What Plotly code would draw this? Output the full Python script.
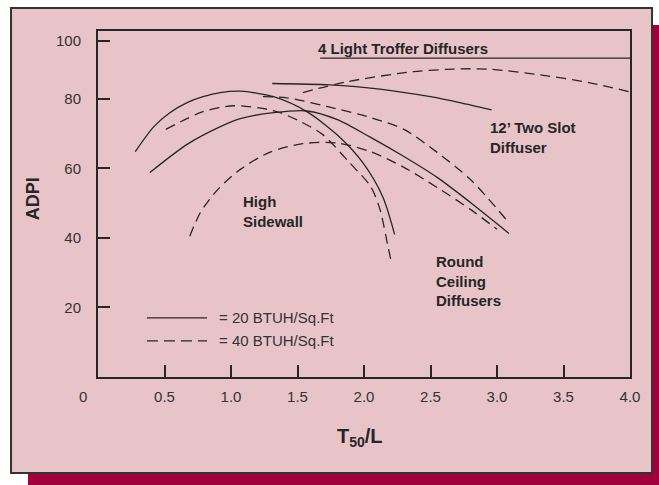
import plotly.graph_objects as go

# --- data (x = T50/L, y = ADPI) ---
hs_solid_x = [0.28, 0.42, 0.54, 0.67, 0.79, 0.92, 1.07, 1.32, 1.57, 1.82, 1.99, 2.14, 2.23]
hs_solid_y = [64.8, 72.0, 76.0, 78.9, 80.6, 81.8, 82.2, 80.6, 76.3, 68.9, 61.7, 51.9, 41.0]

hs_dash_x = [0.51, 0.79, 1.02, 1.27, 1.37, 1.52, 1.69, 1.89, 2.05, 2.12, 2.18, 2.20]
hs_dash_y = [71.2, 76.3, 78.0, 77.0, 76.0, 73.5, 69.7, 61.7, 54.8, 48.2, 37.6, 34.0]

low_dash_x = [0.69, 0.77, 0.90, 1.07, 1.29, 1.54, 1.80, 2.05, 2.30, 2.55, 2.80, 3.00]
low_dash_y = [40.5, 47.3, 53.9, 59.7, 64.6, 67.1, 67.3, 64.8, 60.3, 54.5, 48.2, 42.5]

rc_solid_x = [0.39, 0.67, 0.92, 1.07, 1.32, 1.57, 1.80, 2.05, 2.30, 2.55, 2.80, 3.09]
rc_solid_y = [58.8, 66.9, 72.0, 74.3, 76.0, 76.5, 74.0, 68.9, 63.4, 57.4, 50.2, 41.3]

rc_dash_x = [1.24, 1.42, 1.72, 2.05, 2.30, 2.55, 2.80, 3.08]
rc_dash_y = [80.6, 80.3, 77.8, 74.6, 71.2, 64.6, 56.8, 44.8]

slot_solid_x = [1.31, 1.74, 2.12, 2.50, 2.72, 2.96]
slot_solid_y = [84.4, 84.0, 82.8, 80.6, 78.9, 76.8]

slot_dash_x = [1.54, 1.87, 2.37, 2.72, 2.95, 3.32, 3.70, 4.00]
slot_dash_y = [81.8, 84.9, 87.8, 88.6, 88.5, 86.9, 84.6, 82.0]

troffer_x = [1.67, 4.00]
troffer_y = [91.7, 91.7]

x_ticks = [0.5, 1.0, 1.5, 2.0, 2.5, 3.0, 3.5, 4.0]
x_labels = ['0.5', '1.0', '1.5', '2.0', '2.5', '3.0', '3.5', '4.0']
y_ticks = [20, 40, 60, 80, 96.6]
y_labels = ['20', '40', '60', '80', '100']

INK = '#262626'
PINK = '#e8c4c9'
CRIMSON = '#a0003c'
FONT = 'Liberation Sans, Arial, sans-serif'

curves = [
    (hs_solid_x, hs_solid_y, 'solid'),
    (hs_dash_x, hs_dash_y, '10px,6px'),
    (low_dash_x, low_dash_y, '10px,6px'),
    (rc_solid_x, rc_solid_y, 'solid'),
    (rc_dash_x, rc_dash_y, '10px,6px'),
    (slot_solid_x, slot_solid_y, 'solid'),
    (slot_dash_x, slot_dash_y, '10px,6px'),
    (troffer_x, troffer_y, 'solid'),
]

fig = go.Figure()
for xs, ys, dash in curves:
    fig.add_trace(go.Scatter(
        x=xs, y=ys, mode='lines',
        line=dict(color=INK, width=1.3, dash=dash, shape='spline', smoothing=0.8),
        hoverinfo='skip', showlegend=False,
    ))

# background panel with offset shadow
shapes = [
    dict(type='rect', xref='paper', yref='paper', x0=-0.1316, x1=1.08, y0=-0.33, y1=1.0173,
         fillcolor=CRIMSON, line=dict(width=0), layer='below'),
    dict(type='rect', xref='paper', yref='paper', x0=-0.1635, x1=1.0414, y0=-0.2775, y1=1.0665,
         fillcolor=PINK, line=dict(color='#333333', width=2), layer='below'),
    # legend samples
    dict(type='line', xref='x', yref='y', x0=0.368, x1=0.82, y0=17.0, y1=17.0,
         line=dict(color=INK, width=1.3)),
    dict(type='line', xref='x', yref='y', x0=0.368, x1=0.82, y0=10.4, y1=10.4,
         line=dict(color=INK, width=1.3, dash='11px,6px')),
]

bold = dict(family=FONT, size=15, color=INK)
plain = dict(family=FONT, size=15, color='#333333')
annotations = [
    dict(x=1.64, y=94.6, text='<b>4 Light Troffer Diffusers</b>', font=bold),
    dict(x=2.93, y=69.0, text='<b>12’ Two Slot<br>Diffuser</b>', font=bold),
    dict(x=1.075, y=47.5, text='<b>High<br>Sidewall</b>', font=bold),
    dict(x=2.53, y=27.6, text='<b>Round<br>Ceiling<br>Diffusers</b>', font=bold),
    dict(x=0.895, y=17.0, text='= 20 BTUH/Sq.Ft', font=plain),
    dict(x=0.895, y=10.4, text='= 40 BTUH/Sq.Ft', font=plain),
]
for a in annotations:
    a.update(xref='x', yref='y', xanchor='left', yanchor='middle', align='left', showarrow=False)

annotations += [
    dict(xref='paper', yref='paper', x=-0.122, y=0.514, text='<b>ADPI</b>', textangle=-90,
         font=dict(family=FONT, size=18, color=INK), showarrow=False,
         xanchor='center', yanchor='middle'),
    dict(xref='paper', yref='paper', x=0.4925, y=-0.176, text='<b>T<sub>50</sub>/L</b>',
         font=dict(family=FONT, size=20, color=INK), showarrow=False,
         xanchor='center', yanchor='middle'),
    dict(xref='paper', yref='paper', x=-0.028, y=-0.055, text='0',
         font=plain, showarrow=False, xanchor='center', yanchor='middle'),
]

axis_common = dict(
    ticks='inside', ticklen=12, tickwidth=2, tickcolor=INK,
    showline=True, linewidth=2, linecolor=INK, mirror=True,
    showgrid=False, zeroline=False,
    tickfont=plain,
)

fig.update_layout(
    width=659, height=485,
    margin=dict(l=98, r=29, t=31, b=108),
    paper_bgcolor='white',
    plot_bgcolor='rgba(0,0,0,0)',
    showlegend=False,
    shapes=shapes,
    annotations=annotations,
    xaxis=dict(range=[0, 4], tickvals=x_ticks, ticktext=x_labels,
               ticklabelstandoff=5, **axis_common),
    yaxis=dict(range=[0, 99.5], tickvals=y_ticks, ticktext=y_labels,
               ticklabelstandoff=12, **axis_common),
)

# drop the default page margin so the figure sits at the window origin
fig.write_html('out.html', config={'displayModeBar': False},
               post_script="document.body.style.margin='0';")
